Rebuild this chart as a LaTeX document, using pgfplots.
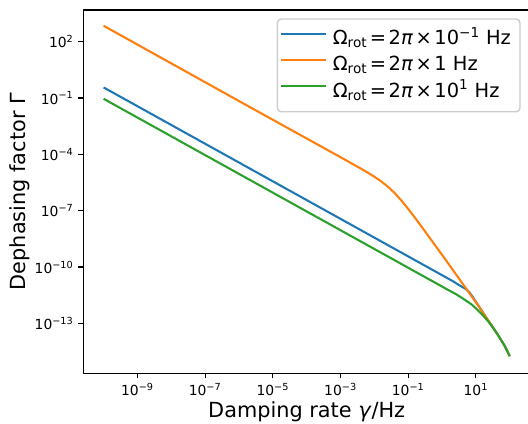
\documentclass[border=0pt]{standalone}
\usepackage{pgfplots}
\pgfplotsset{compat=1.18}
\usepackage{fontspec}
\setmainfont{DejaVu Sans}
\usetikzlibrary{calc}
\definecolor{mblue}{HTML}{1F77B4}
\definecolor{morange}{HTML}{FF7F0E}
\definecolor{mgreen}{HTML}{2CA02C}
\newcommand{\msp}{\hspace{0.13em}}
\begin{document}
\begin{tikzpicture}
\begin{axis}[
  name=ax,
  xmode=log, ymode=log,
  scale only axis, width=321.7pt, height=261.6pt,
  xmin=2.512e-11, xmax=398.1,
  ymin=2.188e-16, ymax=4898,
  xtick={1e-9,1e-7,1e-5,1e-3,1e-1,1e1},
  xticklabels={10\textsuperscript{−9},10\textsuperscript{−7},10\textsuperscript{−5},10\textsuperscript{−3},10\textsuperscript{−1},10\textsuperscript{1}},
  ytick={1e-13,1e-10,1e-7,1e-4,1e-1,1e2},
  yticklabels={10\textsuperscript{−13},10\textsuperscript{−10},10\textsuperscript{−7},10\textsuperscript{−4},10\textsuperscript{−1},10\textsuperscript{2}},
  minor tick num=0, xminorticks=false, yminorticks=false,
  tick align=outside, xtick pos=bottom, ytick pos=left,
  major tick length=3.5pt,
  every tick/.style={black, line width=0.8pt},
  axis line style={line width=0.8pt},
  tick label style={font=\fontsize{10}{12}\selectfont},
  xlabel={Damping rate \textit{γ}/Hz},
  ylabel={Dephasing factor Γ},
  label style={font=\fontsize{15}{18}\selectfont},
  xlabel style={at={(axis description cs:0.5,-0.1204)}, anchor=base},
  ylabel style={at={(axis description cs:-0.1299,0.5)}, anchor=base},
  legend style={at={(axis description cs:1,1)}, xshift=-6.8pt, yshift=-6pt, anchor=north east,
    draw=black!20, line width=1pt, rounded corners=2.8pt, fill=white, fill opacity=0.8, text opacity=1,
    font=\fontsize{14}{16.8}\selectfont, inner xsep=2pt, inner ysep=5.5pt, row sep=0.9pt,
    nodes={text height=11pt, text depth=3pt, inner ysep=2pt, inner xsep=4.5pt},
    cells={anchor=west}},
  legend image code/.code={\path (0pt,4pt) -- (32pt,4pt); \draw[#1] (0pt,4pt) -- (27.6pt,4pt);},
]
\addplot[mblue, line width=1.5pt] coordinates {
(1e-10,0.3673) (0.8185,4.487e-11) (1.995,1.841e-11) (3.162,1.096e-11) (5.012,6.761e-12)
(6.310,4.677e-12) (7.943,2.661e-12) (10,1.365e-12) (12.45,7.674e-13) (19.50,2.239e-13)
(25.12,1.135e-13) (31.62,6.166e-14) (38.73,3.548e-14) (48.53,1.905e-14) (70.79,6.310e-15) (100,1.778e-15)};
\addlegendentry{Ω\textsubscript{rot}\msp=\msp2\textit{π}\msp×\msp10\textsuperscript{−1} Hz}
\addplot[morange, line width=1.5pt] coordinates {
(1e-10,707.9) (1.995e-6,3.467e-2) (1e-3,7.079e-5) (3.981e-3,1.743e-5) (6.310e-3,1.074e-5)
(1e-2,6.435e-6) (1.585e-2,3.656e-6) (2.512e-2,1.892e-6) (3.981e-2,8.650e-7) (6.310e-2,3.451e-7)
(0.1,1.242e-7) (0.1585,4.188e-8) (0.2512,1.365e-8) (0.3981,4.375e-9) (0.6310,1.393e-9)
(1,4.416e-10) (1.291,2.344e-10) (3.990,1.349e-11) (12.45,7.586e-13) (19.50,2.239e-13)
(25.12,1.135e-13) (31.62,6.166e-14) (38.73,3.548e-14) (48.53,1.905e-14) (70.79,6.310e-15) (100,1.778e-15)};
\addlegendentry{Ω\textsubscript{rot}\msp=\msp2\textit{π}\msp×\msp1 Hz}
\addplot[mgreen, line width=1.5pt] coordinates {
(1e-10,0.09120) (1.585,5.754e-12) (2.547,3.631e-12) (3.981,2.188e-12) (6.310,1.259e-12)
(7.889,9.333e-13) (10,6.310e-13) (12.59,4.169e-13) (15.85,2.754e-13) (19.50,1.820e-13)
(25.12,1.047e-13) (31.62,6.026e-14) (38.73,3.548e-14) (48.53,1.905e-14) (70.79,6.310e-15) (100,1.778e-15)};
\addlegendentry{Ω\textsubscript{rot}\msp=\msp2\textit{π}\msp×\msp10\textsuperscript{1} Hz}
\end{axis}
\pgfresetboundingbox
\path[use as bounding box] ($(ax.south west)+(-60pt,-36.5pt)$) rectangle ($(ax.north east)+(-1.5pt,7.2pt)$);
\end{tikzpicture}
\end{document}
